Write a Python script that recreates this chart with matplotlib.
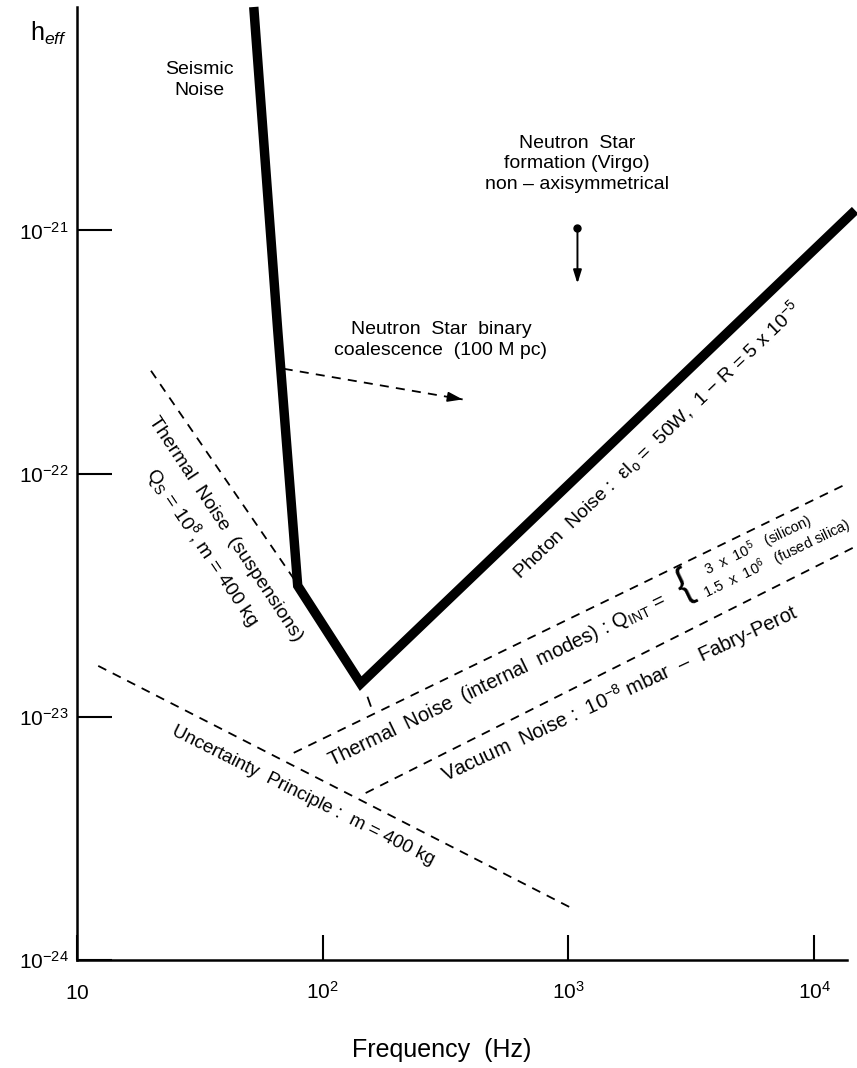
import matplotlib
matplotlib.use('Agg')
import matplotlib.pyplot as plt

plt.rcParams['font.family'] = ['Liberation Sans', 'DejaVu Sans']
plt.rcParams['mathtext.fontset'] = 'custom'
plt.rcParams['mathtext.rm'] = 'Liberation Sans'
plt.rcParams['mathtext.it'] = 'Liberation Sans:italic'
plt.rcParams['mathtext.bf'] = 'Liberation Sans:bold'
plt.rcParams['mathtext.sf'] = 'Liberation Sans'

# ---------------- data ----------------
sens_f = [52.4, 65.6, 79.1, 142.7, 14680]
sens_h = [8.3e-21, 3.88e-22, 3.46e-23, 1.37e-23, 1.21e-21]

thermal_susp_f = [20.0, 76.2]
thermal_susp_h = [2.65e-22, 3.70e-23]

thermal_int_f = [76.2, 13610]
thermal_int_h = [7.11e-24, 9.10e-23]

vacuum_f = [149.5, 14400]
vacuum_h = [4.86e-24, 4.96e-23]

uncert_f = [12.2, 1048]
uncert_h = [1.62e-23, 1.62e-24]

binary_f = [69.4, 371]
binary_h = [2.70e-22, 2.02e-22]

min_mark_f = [152.5, 156.7]
min_mark_h = [1.20e-23, 1.11e-23]

ns_form_f = [1088, 1088]
ns_form_h = [1.02e-21, 6.05e-22]

x_ticks = [10, 100, 1000, 10000]
x_ticklabels = [r'$\mathregular{10}$', r'$\mathregular{10^2}$',
                r'$\mathregular{10^3}$', r'$\mathregular{10^4}$']
y_ticks = [1e-24, 1e-23, 1e-22, 1e-21]
y_ticklabels = [r'$\mathregular{10^{-24}}$', r'$\mathregular{10^{-23}}$',
                r'$\mathregular{10^{-22}}$', r'$\mathregular{10^{-21}}$']
x_lim = (10, 13600)
y_lim = (1e-24, 8.3e-21)

# ---------------- figure ----------------
W, H = 857, 1068
fig = plt.figure(figsize=(W / 100, H / 100), dpi=100)
ax = fig.add_axes([77 / W, 1 - 960 / H, 770 / W, 953 / H])
ax.set_xscale('log')
ax.set_yscale('log')
ax.set_xlim(*x_lim)
ax.set_ylim(*y_lim)

for s in ('top', 'right'):
    ax.spines[s].set_visible(False)
for s in ('left', 'bottom'):
    ax.spines[s].set_linewidth(1.8)

ax.minorticks_off()
ax.set_xticks(x_ticks)
ax.set_xticklabels(x_ticklabels)
ax.set_yticks(y_ticks)
ax.set_yticklabels(y_ticklabels)
ax.tick_params(axis='x', direction='in', length=18, width=1.5, labelsize=15, pad=28)
ax.tick_params(axis='y', direction='in', length=25, width=1.5, labelsize=15, pad=6)
ax.minorticks_off()
for lbl in ax.get_xticklabels():
    lbl.set_verticalalignment('baseline')

dash = (0, (5, 4))
k = 'black'

# sensitivity curve (thick)
ax.plot(sens_f, sens_h, color=k, lw=6.8, solid_joinstyle='miter',
        solid_capstyle='butt', clip_on=False, zorder=5)

# dashed noise lines
ax.plot(thermal_susp_f, thermal_susp_h, color=k, lw=1.3, ls=dash)
ax.plot(thermal_int_f, thermal_int_h, color=k, lw=1.3, ls=dash)
ax.plot(vacuum_f, vacuum_h, color=k, lw=1.3, ls=dash, clip_on=False)
ax.plot(uncert_f, uncert_h, color=k, lw=1.3, ls=dash)
ax.plot(min_mark_f, min_mark_h, color=k, lw=1.3)

# neutron star binary arrow
ax.plot(binary_f, binary_h, color=k, lw=1.3, ls=dash)
head_from = (binary_f[0] ** 0.08 * binary_f[1] ** 0.92,
             binary_h[0] ** 0.08 * binary_h[1] ** 0.92)
ax.annotate('', xy=(binary_f[1], binary_h[1]), xytext=head_from,
            arrowprops=dict(arrowstyle='-|>,head_length=0.9,head_width=0.3',
                            color=k, lw=1.2, shrinkA=0, shrinkB=0))

# neutron star formation marker
ax.plot(ns_form_f[0], ns_form_h[0], 'o', color=k, ms=5)
ax.annotate('', xy=(ns_form_f[1], ns_form_h[1]), xytext=(ns_form_f[0], ns_form_h[0]),
            arrowprops=dict(arrowstyle='-|>,head_length=0.8,head_width=0.25',
                            color=k, lw=1.4, shrinkA=0, shrinkB=0))


def P(x, y):
    return (x / W, 1 - y / H)


def txt(x, y, s, size=12, rot=0, **kw):
    fig.text(*P(x, y), s, fontsize=size, rotation=rot, ha='center', va='center',
             rotation_mode='anchor', **kw)


txt(49, 33, r'$\mathregular{h}_{eff}$', size=18)
txt(199, 80, 'Seismic\nNoise', size=14, linespacing=1.25)
txt(577, 164, 'Neutron  Star\nformation (Virgo)\nnon – axisymmetrical', size=14,
    linespacing=1.25)
txt(441, 340, 'Neutron  Star  binary\ncoalescence  (100 M pc)', size=14,
    linespacing=1.25)

txt(225, 529, 'Thermal  Noise  (suspensions)', size=14, rot=-56.5)
txt(203, 547, r'Q$_\mathregular{S}$ = 10$^\mathregular{8}$, m = 400 kg', size=14, rot=-56)

txt(656, 440, r'Photon  Noise :  εI$_\mathregular{o}$ =  50W,  1 − R = 5 x 10$^{\mathregular{-5}}$',
    size=14, rot=43.7)

txt(497, 681, r'Thermal  Noise  (internal  modes) : Q$_{\mathregular{INT}}$ =', size=14.5,
    rot=25.8)
txt(684, 586, '{', size=30, rot=25.8)
txt(758, 546, r'3  x  10$^\mathregular{5}$   (silicon)', size=10.5, rot=25.8)
txt(777, 559, r'1.5  x  10$^\mathregular{6}$   (fused silica)', size=10.5, rot=25.8)

txt(620, 694, r'Vacuum  Noise :  10$^{\mathregular{-8}}$ mbar  –  Fabry-Perot', size=14.5,
    rot=25)
txt(303, 796, 'Uncertainty  Principle :  m = 400 kg', size=13.5, rot=-26.6)

txt(442, 1050, 'Frequency  (Hz)', size=18)

fig.savefig('out.png', dpi=100)
